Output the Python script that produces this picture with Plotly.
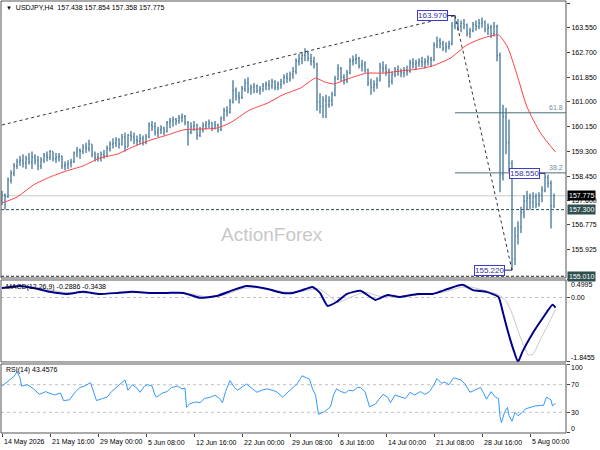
import plotly.graph_objects as go

# ---- USDJPY H4 price, one entry per pair of H4 bars (bar index step 2) ----
first_open = 157.60
highs = [
    157.95, 157.85, 158.40, 158.65, 158.90, 159.05, 159.15, 159.20, 159.15, 159.25,
    159.30, 159.20, 159.15, 159.10, 159.25, 159.30, 159.35, 159.30, 159.25, 159.25,
    159.15, 158.95, 159.00, 159.05, 159.30, 159.45, 159.40, 159.55, 159.60, 159.70,
    159.55, 159.30, 159.25, 159.30, 159.35, 159.50, 159.65, 159.75, 159.80, 159.75,
    159.90, 159.95, 159.90, 160.00, 159.95, 159.85, 159.90, 159.85, 159.90, 160.30,
    160.35, 160.30, 160.15, 160.20, 160.15, 160.35, 160.45, 160.50, 160.45, 160.55,
    160.60, 160.55, 160.35, 160.30, 160.35, 160.25, 160.15, 160.30, 160.35, 160.40,
    160.30, 160.35, 160.25, 160.50, 160.80, 160.85, 161.10, 161.75, 161.50, 161.35,
    161.55, 161.80, 161.85, 161.60, 161.65, 161.60, 161.55, 161.65, 161.70, 161.75,
    161.80, 161.75, 161.70, 161.80, 161.95, 162.00, 162.05, 162.20, 162.50, 162.65,
    162.70, 162.85, 162.75, 162.65, 162.55, 162.35, 161.30, 161.20, 161.25, 161.20,
    161.35, 161.90, 162.30, 162.20, 161.95, 162.10, 162.50, 162.60, 162.65, 162.55,
    162.45, 162.40, 162.15, 161.80, 161.75, 161.85, 162.35, 162.40, 162.30, 162.15,
    162.05, 162.20, 162.25, 162.15, 162.20, 162.25, 162.45, 162.50, 162.45, 162.50,
    162.55, 162.50, 162.60, 162.55, 163.05, 163.25, 163.20, 163.10, 163.05, 163.10,
    163.75, 163.97, 163.85, 163.80, 163.85, 163.70, 163.55, 163.75, 163.80, 163.85,
    163.90, 163.80, 163.70, 163.65, 163.75, 163.65, 162.70, 160.90, 160.80, 160.40,
    159.00, 156.70, 156.90, 157.40, 157.80, 157.95, 157.85, 157.90, 157.85, 157.90,
    158.10, 158.55, 158.50, 158.30, 157.854,
]
lows = [
    157.45, 157.30, 157.70, 158.20, 158.45, 158.70, 158.80, 158.75, 158.70, 158.85,
    158.70, 158.85, 158.65, 158.70, 158.90, 158.95, 159.00, 158.95, 158.90, 158.95,
    158.70, 158.65, 158.70, 158.75, 158.90, 159.10, 159.05, 159.20, 159.25, 159.30,
    159.10, 158.95, 158.95, 158.95, 159.05, 159.10, 159.30, 159.40, 159.45, 159.40,
    159.50, 159.30, 159.45, 159.65, 159.55, 159.50, 159.55, 159.50, 159.55, 159.75,
    160.00, 159.85, 159.80, 159.90, 159.85, 159.95, 160.10, 160.15, 160.20, 160.25,
    160.30, 160.20, 159.50, 159.90, 160.00, 159.70, 159.80, 159.95, 160.05, 160.10,
    160.00, 160.05, 159.95, 160.00, 160.35, 160.50, 160.60, 160.95, 161.05, 160.95,
    161.10, 161.35, 161.30, 161.25, 161.30, 161.30, 161.25, 161.35, 161.40, 161.40,
    161.45, 161.40, 161.40, 161.45, 161.60, 161.65, 161.70, 161.80, 161.95, 162.25,
    162.30, 162.40, 162.40, 162.25, 162.15, 160.70, 160.60, 160.45, 160.45, 160.80,
    160.85, 161.20, 161.75, 161.70, 161.60, 161.65, 161.95, 162.25, 162.30, 162.15,
    162.05, 162.00, 161.55, 161.25, 161.35, 161.45, 161.70, 162.00, 161.90, 161.50,
    161.60, 161.85, 161.90, 161.85, 161.85, 161.90, 162.00, 162.15, 162.10, 162.20,
    162.20, 162.15, 162.25, 162.20, 162.40, 162.85, 162.85, 162.75, 162.70, 162.80,
    162.95, 163.50, 163.45, 163.40, 163.50, 163.25, 163.20, 163.40, 163.45, 163.50,
    163.55, 163.40, 163.30, 163.20, 163.25, 162.40, 157.90, 158.30, 159.20, 158.60,
    155.22, 155.40, 156.10, 156.50, 157.00, 157.30, 157.30, 157.35, 157.35, 157.40,
    157.55, 157.90, 158.05, 156.65, 157.358,
]
closes = [
    157.80, 157.75, 158.30, 158.55, 158.80, 158.95, 159.00, 158.90, 159.05, 158.95,
    159.10, 159.00, 158.80, 159.00, 159.15, 159.10, 159.30, 159.05, 159.10, 159.15,
    158.80, 158.85, 158.90, 158.95, 159.25, 159.35, 159.30, 159.45, 159.40, 159.55,
    159.20, 159.10, 159.05, 159.20, 159.15, 159.40, 159.55, 159.60, 159.70, 159.55,
    159.80, 159.45, 159.85, 159.80, 159.70, 159.65, 159.75, 159.60, 159.80, 160.20,
    160.15, 159.95, 160.05, 160.10, 160.00, 160.30, 160.35, 160.40, 160.35, 160.45,
    160.50, 160.30, 159.95, 160.15, 160.20, 159.85, 160.05, 160.20, 160.25, 160.30,
    160.10, 160.20, 160.05, 160.45, 160.70, 160.65, 161.00, 161.40, 161.20, 161.15,
    161.45, 161.65, 161.45, 161.50, 161.55, 161.40, 161.45, 161.55, 161.60, 161.55,
    161.70, 161.50, 161.60, 161.70, 161.85, 161.80, 161.95, 162.05, 162.40, 162.50,
    162.60, 162.70, 162.50, 162.40, 162.30, 161.00, 160.85, 161.05, 160.90, 161.05,
    161.25, 161.80, 162.15, 161.85, 161.75, 162.00, 162.40, 162.45, 162.50, 162.25,
    162.30, 162.10, 161.65, 161.50, 161.60, 161.75, 162.20, 162.15, 162.05, 161.70,
    161.95, 162.10, 162.05, 162.00, 162.10, 162.05, 162.35, 162.30, 162.35, 162.40,
    162.35, 162.40, 162.50, 162.45, 162.95, 163.10, 163.00, 162.85, 162.90, 163.00,
    163.60, 163.70, 163.60, 163.70, 163.65, 163.35, 163.45, 163.65, 163.60, 163.70,
    163.75, 163.50, 163.55, 163.35, 163.60, 162.60, 158.50, 160.50, 159.60, 158.90,
    155.60, 156.40, 156.70, 157.20, 157.60, 157.70, 157.55, 157.75, 157.50, 157.80,
    157.95, 158.40, 158.20, 157.438, 157.775,
]

# red moving average (bar index, price)
ma_idx = [0, 10, 21, 32, 43, 54, 65, 77, 87, 99, 110, 121, 132, 143, 152, 165, 177, 187,
          199, 209, 215, 221, 232, 243, 254, 265, 277, 287, 299, 310, 321, 331, 337, 343,
          350, 359, 369]
ma_val = [157.53, 157.73, 158.15, 158.42, 158.63, 158.80, 159.07, 159.21, 159.45, 159.69,
          159.86, 160.04, 160.07, 160.10, 160.28, 160.72, 160.96, 161.24, 161.48, 161.82,
          161.69, 161.62, 161.82, 161.99, 161.99, 162.06, 162.13, 162.24, 162.51, 162.96,
          163.20, 163.30, 162.89, 161.99, 160.83, 159.93, 159.28]

# MACD(12,26,9)
macd_idx = [0, 12, 21, 32, 43, 54, 65, 77, 87, 99, 110, 121, 132, 143, 154, 163, 177, 187,
            194, 199, 207, 212, 217, 223, 230, 239, 249, 257, 265, 277, 287, 297, 307, 314,
            323, 331, 334, 337, 341, 344, 347, 354, 361, 367, 369]
macd_val = [0.27, 0.33, 0.27, 0.16, 0.10, 0.16, 0.10, 0.13, 0.16, 0.13, 0.13, 0.13, -0.01,
            0.04, 0.21, 0.33, 0.24, 0.13, 0.13, 0.19, 0.30, 0.13, -0.24, -0.13, 0.10, 0.19,
            -0.07, 0.07, 0.01, 0.10, 0.10, 0.24, 0.36, 0.21, 0.16, 0.01, -0.44, -0.93, -1.50,
            -1.84, -1.55, -1.01, -0.56, -0.21, -0.2886]
signal_idx = [0, 14, 27, 40, 54, 70, 90, 110, 127, 137, 148, 160, 172, 190, 203, 211, 218,
              224, 232, 242, 252, 262, 280, 295, 305, 312, 322, 331, 336, 340, 344, 348, 351,
              354, 359, 364, 369]
signal_val = [0.25, 0.31, 0.27, 0.15, 0.13, 0.11, 0.14, 0.13, 0.10, 0.01, 0.07, 0.25, 0.28,
              0.15, 0.20, 0.25, 0.05, -0.14, 0.00, 0.15, 0.03, 0.03, 0.08, 0.16, 0.28, 0.30,
              0.20, 0.08, -0.10, -0.45, -0.95, -1.40, -1.65, -1.62, -1.20, -0.78, -0.3438]

# RSI(14)
rsi_idx = [0, 4, 8, 10, 12, 13, 17, 21, 25, 29, 32, 35, 39, 41, 45, 49, 52, 55, 59, 61, 63,
           67, 70, 73, 77, 79, 82, 84, 87, 90, 92, 95, 97, 100, 102, 103, 107, 110, 113, 117,
           120, 122, 123, 125, 129, 132, 135, 139, 142, 145, 147, 149, 152, 155, 157, 161,
           163, 167, 170, 173, 177, 180, 183, 187, 190, 193, 197, 199, 200, 203, 205, 207,
           209, 211, 213, 215, 219, 221, 223, 226, 229, 231, 234, 237, 239, 242, 245, 249,
           251, 254, 257, 259, 262, 265, 269, 272, 275, 279, 282, 285, 288, 290, 293, 295,
           298, 301, 303, 306, 309, 312, 315, 319, 321, 323, 326, 329, 331, 332, 333, 335,
           337, 338, 340, 342, 344, 347, 349, 352, 355, 359, 361, 363, 365, 366, 367, 369]
rsi_val = [68, 75, 82, 89, 80, 68, 70, 64, 56, 60, 58, 55, 58, 47, 48, 60, 66, 68, 73, 60, 47,
           50, 52, 60, 68, 72, 77, 62, 70, 65, 59, 68, 70, 68, 55, 52, 58, 60, 66, 68,
           64, 65, 37, 42, 45, 44, 50, 52, 55, 50, 44, 60, 76, 66, 62, 68,
           71, 64, 59, 62, 64, 62, 60, 52, 58, 64, 72, 79, 83, 80, 78, 64,
           55, 27, 29, 31, 38, 55, 64, 60, 58, 62, 61, 66, 66, 60, 38, 42,
           48, 56, 52, 44, 55, 53, 50, 59, 55, 60, 56, 60, 70, 79, 72, 74,
           70, 80, 79, 77, 70, 59, 62, 66, 58, 49, 60, 52, 50, 24, 15, 30,
           37, 25, 17, 30, 25, 30, 35, 37, 39, 40, 40, 52, 50, 48, 39, 43.4576]

date_ticks = [0, 32, 64, 96, 128, 160, 192, 224, 256, 288, 320, 352]
date_labels = ["14 May 2026", "21 May 16:00", "29 May 00:00", "5 Jun 08:00", "12 Jun 16:00",
               "22 Jun 00:00", "29 Jun 08:00", "6 Jul 16:00", "14 Jul 00:00", "21 Jul 08:00",
               "28 Jul 16:00", "5 Aug 00:00"]
price_ticks = [164.4, 163.55, 162.7, 161.85, 161.0, 160.15, 159.3, 158.45, 157.6, 156.775,
               155.925]

# swing points used by the drawn objects
trend_start_idx, trend_start_px = 0, 160.21
peak_idx, peak_px = 302, 163.970
low_idx, low_px = 340, 155.220
high2_idx, high2_px = 362, 158.550
fib_ratios = [0.618, 0.382]
bid_px, line_px, bottom_px = 157.775, 157.300, 155.010

FONT = "Liberation Sans, Arial, sans-serif"
BAR = "#41749a"
DARK = "#2f4f4f"
BORDER = "#555555"

bar_x = [2 * i for i in range(len(closes))]
opens = [first_open] + closes[:-1]

fig = go.Figure()
fig.add_trace(go.Ohlc(x=bar_x, open=opens, high=highs, low=lows, close=closes,
                      increasing_line_color=BAR, decreasing_line_color=BAR,
                      line_width=1.3, tickwidth=0.3, hoverinfo="skip",
                      xaxis="x", yaxis="y", showlegend=False))
fig.add_trace(go.Scatter(x=ma_idx, y=ma_val, mode="lines",
                         line=dict(color="#ff4040", width=1, shape="spline", smoothing=0.6),
                         xaxis="x", yaxis="y", showlegend=False, hoverinfo="skip"))
fig.add_trace(go.Scatter(x=signal_idx, y=signal_val, mode="lines",
                         line=dict(color="#c8c8c8", width=1, shape="spline", smoothing=0.5),
                         xaxis="x", yaxis="y2", showlegend=False, hoverinfo="skip"))
fig.add_trace(go.Scatter(x=macd_idx, y=macd_val, mode="lines",
                         line=dict(color="#00008b", width=2, shape="spline", smoothing=0.5),
                         xaxis="x", yaxis="y2", showlegend=False, hoverinfo="skip"))
fig.add_trace(go.Scatter(x=rsi_idx, y=rsi_val, mode="lines",
                         line=dict(color="#3399ff", width=1),
                         xaxis="x", yaxis="y3", showlegend=False, hoverinfo="skip"))

shapes = []
# horizontal levels across the main panel
shapes.append(dict(type="line", xref="x domain", yref="y", x0=0, x1=1, y0=bid_px, y1=bid_px,
                   line=dict(color="#c8c8c8", width=1), layer="below"))
shapes.append(dict(type="line", xref="x domain", yref="y", x0=0, x1=1, y0=line_px, y1=line_px,
                   line=dict(color=DARK, width=1, dash="3px,2px"), layer="below"))
shapes.append(dict(type="line", xref="x domain", yref="y", x0=0, x1=1, y0=bottom_px, y1=bottom_px,
                   line=dict(color="#222222", width=1, dash="3px,2px"), layer="below"))
# dotted trend line and fibo base line
shapes.append(dict(type="line", xref="x", yref="y", x0=trend_start_idx, y0=trend_start_px,
                   x1=peak_idx, y1=peak_px, line=dict(color="#333333", width=1, dash="dot")))
shapes.append(dict(type="line", xref="x", yref="y", x0=peak_idx, y0=peak_px,
                   x1=low_idx, y1=low_px, line=dict(color="#333333", width=1, dash="dot")))
# fibo levels
for r in fib_ratios:
    lvl = low_px + r * (peak_px - low_px)
    shapes.append(dict(type="line", xref="x", yref="y", x0=peak_idx, x1=376, y0=lvl, y1=lvl,
                       line=dict(color="#4e6d78", width=1)))
# leader lines from price boxes to swing points
for bx, px, sx in [(297.3, peak_px, peak_idx), (335.3, low_px, low_idx), (358.7, high2_px, high2_idx)]:
    shapes.append(dict(type="line", xref="x", yref="y", x0=bx, x1=sx, y0=px, y1=px,
                       line=dict(color="#202070", width=1)))
# indicator levels
shapes.append(dict(type="line", xref="x domain", yref="y2", x0=0, x1=1, y0=0, y1=0,
                   line=dict(color="#c0c0c0", width=1, dash="3px,3px"), layer="below"))
for lv in [70, 30]:
    shapes.append(dict(type="line", xref="x domain", yref="y3", x0=0, x1=1, y0=lv, y1=lv,
                       line=dict(color="#c0c0c0", width=1, dash="3px,3px"), layer="below"))
# panel frames
for yr in ["y domain", "y2 domain", "y3 domain"]:
    shapes.append(dict(type="rect", xref="x domain", yref=yr, x0=0, x1=1, y0=0, y1=1,
                       line=dict(color=BORDER, width=1)))

small = dict(family=FONT, size=7, color="#000000")
ann = []
ann.append(dict(text="<span style='font-size:6px'>\u25bc</span>\u00a0\u00a0USDJPY,H4\u00a0\u00a0157.438 157.854 157.358 157.775",
                xref="paper", yref="paper", x=0.005, y=0.984, xanchor="left", yanchor="middle",
                showarrow=False, font=small))
ann.append(dict(text="MACD(12,26,9) -0.2886 -0.3438", xref="paper", yref="paper", x=0.006, y=0.338,
                xanchor="left", yanchor="middle", showarrow=False, font=small))
ann.append(dict(text="RSI(14) 43.4576", xref="paper", yref="paper", x=0.006, y=0.146,
                xanchor="left", yanchor="middle", showarrow=False, font=small))
ann.append(dict(text="ActionForex", xref="x", yref="y", x=180, y=156.46, showarrow=False,
                font=dict(family=FONT, size=19, color="#c8c8c8")))

# swing price boxes
box = dict(showarrow=False, bgcolor="#ffffff", bordercolor="#3c3cc8", borderwidth=1, borderpad=0,
           font=dict(family=FONT, size=8, color="#3232a0"), xanchor="right", yanchor="middle",
           xref="x", yref="y")
for bx, px in [(297.3, peak_px), (335.3, low_px), (358.7, high2_px)]:
    ann.append(dict(box, text="%.3f" % px, x=bx, y=px))

# fibo labels
for r in fib_ratios:
    lvl = low_px + r * (peak_px - low_px)
    ann.append(dict(text="%.1f" % (r * 100), xref="x", yref="y", x=375, y=lvl, xanchor="right",
                    yanchor="bottom", showarrow=False,
                    font=dict(family=FONT, size=7, color="#6f8fa0")))

# right axis boxes
for px, bg in [(bid_px, "#000000"), (line_px, DARK), (bottom_px, DARK)]:
    ann.append(dict(text="%.3f" % px, xref="paper", yref="y", x=1, y=px, xanchor="left",
                    yanchor="middle", xshift=1, showarrow=False, bgcolor=bg, borderpad=1,
                    font=dict(family=FONT, size=7, color="#ffffff")))

# indicator scale labels
for txt, yr, val, sh in [("0.4995", "y2", 0.4995, -5), ("0.00", "y2", 0, 0), ("-1.8455", "y2", -1.8455, 4),
                         ("100", "y3", 100, -3), ("70", "y3", 70, 0), ("30", "y3", 30, 0), ("0", "y3", 0, 4)]:
    ann.append(dict(text=txt, xref="paper", yref=yr, x=1, y=val, xanchor="left", yanchor="middle",
                    xshift=3, yshift=sh, showarrow=False, font=small))

# time labels
for t, lab in zip(date_ticks, date_labels):
    ann.append(dict(text=lab, xref="x", yref="paper", x=t, y=-0.021, xanchor="left",
                    yanchor="middle", showarrow=False, font=small))

axis_common = dict(showgrid=False, zeroline=False, side="right", anchor="x", ticks="outside",
                   ticklen=3, tickcolor="#444444", tickfont=small, fixedrange=True)

fig.update_layout(
    width=600, height=450,
    margin=dict(l=1, r=34, t=1, b=17),
    paper_bgcolor="white", plot_bgcolor="white",
    showlegend=False,
    xaxis=dict(domain=[0, 1], range=[-0.667, 376], anchor="y3", showgrid=False, zeroline=False,
               tickvals=date_ticks, ticks="outside", ticklen=3, tickcolor="#444444",
               showticklabels=False, rangeslider=dict(visible=False), fixedrange=True),
    yaxis=dict(axis_common, domain=[0.3588, 1.0], range=[154.95, 164.47],
               tickvals=price_ticks, ticktext=["%.3f" % v for v in price_ticks]),
    yaxis2=dict(axis_common, domain=[0.1644, 0.3542], range=[-1.8455, 0.4995],
                tickvals=[0.4995, 0, -1.8455], showticklabels=False),
    yaxis3=dict(axis_common, domain=[0.0, 0.1597], range=[0, 100],
                tickvals=[100, 70, 30, 0], showticklabels=False),
    shapes=shapes,
    annotations=ann,
)

# page body has a default 8px margin; drop it so the figure sits at the window corner
fig.write_html("out.html", config={"displayModeBar": False},
               post_script="document.body.style.margin='0';")
